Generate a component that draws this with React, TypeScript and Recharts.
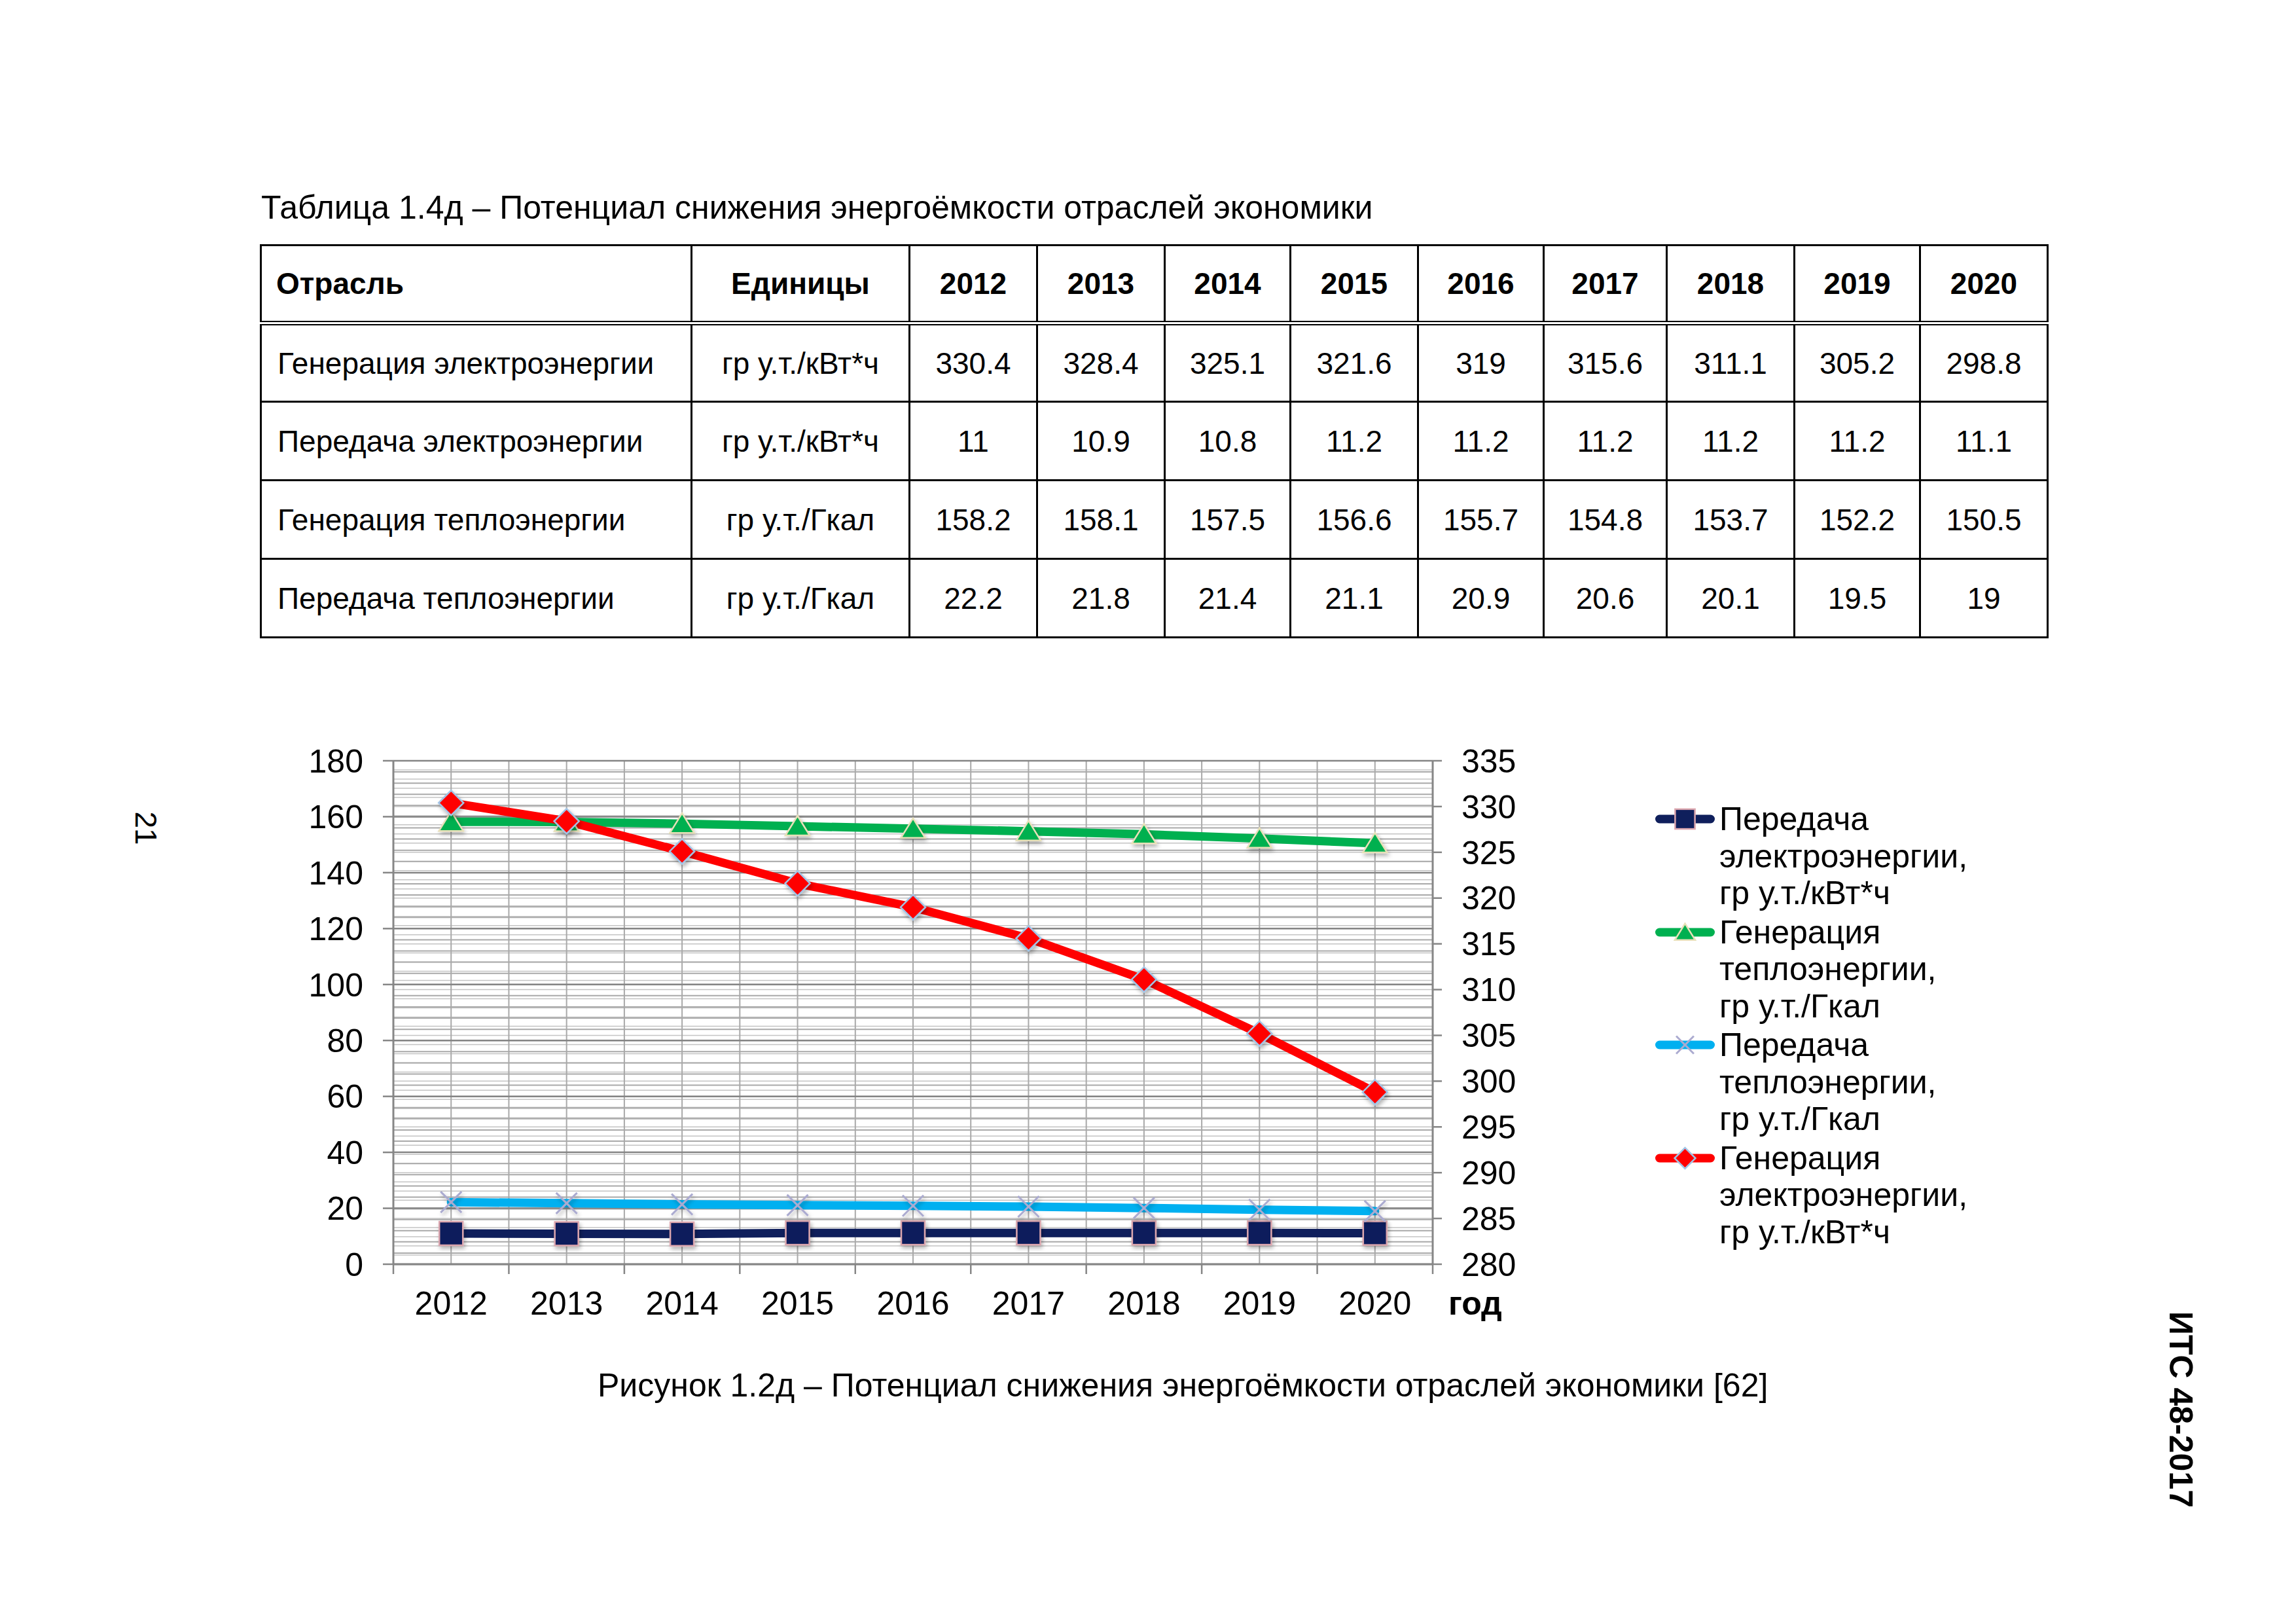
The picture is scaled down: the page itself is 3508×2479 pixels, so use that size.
import React from 'react';
import { LineChart, Line, XAxis, YAxis, CartesianGrid, Legend } from 'recharts';

const FONT = "'Liberation Sans', Arial, Helvetica, sans-serif";

// ---------- data ----------
const YEARS = [2012, 2013, 2014, 2015, 2016, 2017, 2018, 2019, 2020];
const GEN_EL = [330.4, 328.4, 325.1, 321.6, 319, 315.6, 311.1, 305.2, 298.8];
const PER_EL = [11, 10.9, 10.8, 11.2, 11.2, 11.2, 11.2, 11.2, 11.1];
const GEN_TEPLO = [158.2, 158.1, 157.5, 156.6, 155.7, 154.8, 153.7, 152.2, 150.5];
const PER_TEPLO = [22.2, 21.8, 21.4, 21.1, 20.9, 20.6, 20.1, 19.5, 19];

const TABLE_TITLE = 'Таблица 1.4д – Потенциал снижения энергоёмкости отраслей экономики';
const FIGURE_CAPTION = 'Рисунок 1.2д – Потенциал снижения энергоёмкости отраслей экономики [62]';
const TABLE_HEAD = ['Отрасль', 'Единицы'];
const TABLE_ROWS = ['Генерация электроэнергии', 'Передача электроэнергии', 'Генерация теплоэнергии', 'Передача теплоэнергии'];
const TABLE_UNITS = ['гр у.т./кВт*ч', 'гр у.т./кВт*ч', 'гр у.т./Гкал', 'гр у.т./Гкал'];
const TABLE_VALUES = [GEN_EL, PER_EL, GEN_TEPLO, PER_TEPLO];
const COL_WIDTHS = [658, 333, 195, 195, 192, 195, 192, 188, 195, 192, 195];

const LEFT_TICKS = [0, 20, 40, 60, 80, 100, 120, 140, 160, 180];
const RIGHT_TICKS = [280, 285, 290, 295, 300, 305, 310, 315, 320, 325, 330, 335];
const LEFT_MINOR_TICKS = Array.from({ length: 46 }, (_, i) => i * 4);
const RIGHT_MINOR_TICKS = Array.from({ length: 56 }, (_, i) => 280 + i);
const X_TICKS = [YEARS[0] - 0.5, ...YEARS.flatMap((y) => [y, y + 0.5])];
const X_AXIS_NAME = 'год';

const SERIES = [
  { key: 'perEl', name: 'Передача электроэнергии, гр у.т./кВт*ч', color: '#0f1f5c', marker: 'square', axis: 'left' },
  { key: 'genTeplo', name: 'Генерация теплоэнергии, гр у.т./Гкал', color: '#00b050', marker: 'triangle', axis: 'left' },
  { key: 'perTeplo', name: 'Передача теплоэнергии, гр у.т./Гкал', color: '#00b0f0', marker: 'x', axis: 'left' },
  { key: 'genEl', name: 'Генерация электроэнергии, гр у.т./кВт*ч', color: '#ff0000', marker: 'diamond', axis: 'right' },
];

const data = YEARS.map((year, i) => ({
  year,
  perEl: PER_EL[i],
  genTeplo: GEN_TEPLO[i],
  perTeplo: PER_TEPLO[i],
  genEl: GEN_EL[i],
}));

// ---------- style constants ----------
const AXIS_GRAY = '#868686';
const CHART_FS = 50;
const X_TICK_SIZE = 15;
const X_TICK_MARGIN = 26;

function Marker({ type, cx, cy, s = 1, shadow = false }: any) {
  if (cx == null || cy == null) return null;
  const filter = shadow ? 'url(#mkShadow)' : undefined;
  if (type === 'square') {
    const h = 18 * s;
    return <rect x={cx - h} y={cy - h} width={2 * h} height={2 * h} fill="#0f1f5c" stroke="#dca6ae" strokeWidth={2.5} filter={filter} />;
  }
  if (type === 'triangle') {
    const w = 18.5 * s;
    const pts = `${cx},${cy - 16 * s} ${cx + w},${cy + 14 * s} ${cx - w},${cy + 14 * s}`;
    return <polygon points={pts} fill="#00b050" stroke="#e8e0b8" strokeWidth={2.5} filter={filter} />;
  }
  if (type === 'diamond') {
    const h = 19 * s;
    const pts = `${cx},${cy - h} ${cx + h},${cy} ${cx},${cy + h} ${cx - h},${cy}`;
    return <polygon points={pts} fill="#ff0000" stroke="#a2c4e6" strokeWidth={2.5} filter={filter} />;
  }
  const h = 16 * s;
  return (
    <g filter={filter}>
      <line x1={cx - h} y1={cy - h} x2={cx + h} y2={cy + h} stroke="#ababd0" strokeWidth={3} />
      <line x1={cx - h} y1={cy + h} x2={cx + h} y2={cy - h} stroke="#ababd0" strokeWidth={3} />
    </g>
  );
}

function XTick(props: any) {
  const { x, y, payload } = props;
  const v = payload.value;
  const axisY = y - X_TICK_SIZE - X_TICK_MARGIN;
  if (Number.isInteger(v)) {
    return (
      <text x={x} y={y} dy="0.71em" textAnchor="middle" fontSize={CHART_FS} fontFamily={FONT} fill="#000">
        {v}
      </text>
    );
  }
  return <line x1={x} y1={axisY} x2={x} y2={axisY + X_TICK_SIZE} stroke={AXIS_GRAY} strokeWidth={2.5} />;
}

const renderAxisName = (props: any) => {
  const vb = props.viewBox || {};
  return (
    <text
      x={vb.x + vb.width + 24}
      y={vb.y + X_TICK_SIZE + X_TICK_MARGIN}
      dy="0.71em"
      fontSize={CHART_FS}
      fontWeight="bold"
      fontFamily={FONT}
      fill="#000"
    >
      {X_AXIS_NAME}
    </text>
  );
};

function legendLines(name: string) {
  const [head, unit] = name.split(', ');
  const words = head.split(' ');
  return [words[0], words.slice(1).join(' ') + ',', unit];
}

const renderLegend = () => (
  <div style={{ fontFamily: FONT, fontSize: CHART_FS, lineHeight: '56.5px', color: '#000' }}>
    {SERIES.map((s) => (
      <div key={s.key} style={{ display: 'flex', alignItems: 'flex-start', marginBottom: 3 }}>
        <svg width={98} height={56} style={{ flex: 'none', display: 'block' }}>
          <line x1={6.5} y1={28} x2={84.5} y2={28} stroke={s.color} strokeWidth={13} strokeLinecap="round" />
          <Marker type={s.marker} cx={45.5} cy={28} s={0.84} />
        </svg>
        <div style={{ whiteSpace: 'nowrap' }}>
          {legendLines(s.name).map((l, i) => (
            <div key={i}>{l}</div>
          ))}
        </div>
      </div>
    ))}
  </div>
);

const tickStyle = { fontSize: CHART_FS, fill: '#000', fontFamily: FONT };

function Chart() {
  return (
    <LineChart width={3000} height={1100} data={data} margin={{ top: 162, right: 661, bottom: 69, left: 451 }}>
      <defs>
        <filter id="mkShadow" x="-50%" y="-50%" width="200%" height="200%">
          <feDropShadow dx="2" dy="4" stdDeviation="3" floodColor="#000" floodOpacity="0.3" />
        </filter>
      </defs>
      <CartesianGrid yAxisId="rightMinor" vertical={false} stroke="#c4c4c4" strokeWidth={1.5} />
      <CartesianGrid yAxisId="leftMinor" stroke="#a9a9a9" strokeWidth={2} />
      <CartesianGrid yAxisId="left" vertical={false} stroke="#858585" strokeWidth={2.5} />
      <XAxis
        dataKey="year"
        type="number"
        domain={[X_TICKS[0], X_TICKS[X_TICKS.length - 1]]}
        ticks={X_TICKS}
        interval={0}
        allowDataOverflow
        tickLine={false}
        tickSize={X_TICK_SIZE}
        tickMargin={X_TICK_MARGIN}
        tick={<XTick />}
        axisLine={{ stroke: AXIS_GRAY, strokeWidth: 3 }}
        height={100}
        label={renderAxisName}
      />
      <YAxis
        yAxisId="left"
        domain={[0, 180]}
        ticks={LEFT_TICKS}
        interval={0}
        allowDataOverflow
        width={150}
        tickSize={16}
        tickMargin={30}
        tick={tickStyle}
        axisLine={{ stroke: AXIS_GRAY, strokeWidth: 3 }}
        tickLine={{ stroke: AXIS_GRAY, strokeWidth: 2.5 }}
      />
      <YAxis
        yAxisId="right"
        orientation="right"
        domain={[280, 335]}
        ticks={RIGHT_TICKS}
        interval={0}
        allowDataOverflow
        width={150}
        tickSize={14}
        tickMargin={30}
        tick={tickStyle}
        axisLine={{ stroke: AXIS_GRAY, strokeWidth: 3 }}
        tickLine={{ stroke: AXIS_GRAY, strokeWidth: 2.5 }}
      />
      <YAxis yAxisId="leftMinor" hide domain={[0, 180]} ticks={LEFT_MINOR_TICKS} interval={0} allowDataOverflow />
      <YAxis yAxisId="rightMinor" hide orientation="right" domain={[280, 335]} ticks={RIGHT_MINOR_TICKS} interval={0} allowDataOverflow />
      {SERIES.map((s) => (
        <Line
          key={s.key}
          type="linear"
          dataKey={s.key}
          name={s.name}
          yAxisId={s.axis}
          stroke={s.color}
          strokeWidth={13}
          strokeLinejoin="round"
          strokeLinecap="round"
          isAnimationActive={false}
          activeDot={false}
          dot={(p: any) => <Marker key={`${s.key}-${p.index}`} type={s.marker} cx={p.cx} cy={p.cy} shadow />}
        />
      ))}
      <Legend
        layout="vertical"
        align="center"
        verticalAlign="middle"
        content={renderLegend}
        wrapperStyle={{ left: 2529, top: 223, width: 520, height: 'auto', right: 'auto', bottom: 'auto' }}
      />
    </LineChart>
  );
}

const cell: React.CSSProperties = {
  border: '3px solid #000',
  fontSize: 46,
  fontFamily: FONT,
  textAlign: 'center',
  verticalAlign: 'middle',
  padding: 0,
  color: '#000',
  whiteSpace: 'nowrap',
};

function DataTable() {
  return (
    <table
      style={{
        position: 'absolute',
        left: 397,
        top: 373,
        borderCollapse: 'collapse',
        tableLayout: 'fixed',
        width: COL_WIDTHS.reduce((a, b) => a + b, 0),
      }}
    >
      <colgroup>
        {COL_WIDTHS.map((w, i) => (
          <col key={i} style={{ width: w }} />
        ))}
      </colgroup>
      <tbody>
        <tr style={{ height: 119 }}>
          <th style={{ ...cell, textAlign: 'left', paddingLeft: 22, borderBottom: '7px double #000' }}>{TABLE_HEAD[0]}</th>
          <th style={{ ...cell, borderBottom: '7px double #000' }}>{TABLE_HEAD[1]}</th>
          {YEARS.map((y) => (
            <th key={y} style={{ ...cell, borderBottom: '7px double #000' }}>
              {y}
            </th>
          ))}
        </tr>
        {TABLE_ROWS.map((r, ri) => (
          <tr key={r} style={{ height: 120 }}>
            <td style={{ ...cell, textAlign: 'left', paddingLeft: 24 }}>{r}</td>
            <td style={cell}>{TABLE_UNITS[ri]}</td>
            {TABLE_VALUES[ri].map((v, ci) => (
              <td key={ci} style={cell}>
                {String(v)}
              </td>
            ))}
          </tr>
        ))}
      </tbody>
    </table>
  );
}

export default function App() {
  return (
    <div style={{ position: 'absolute', left: 0, top: 0, width: 3508, height: 2479, background: '#fff', overflow: 'hidden', fontFamily: FONT }}>
      <div style={{ position: 'absolute', left: 399, top: 292, fontSize: 50, lineHeight: '50px', whiteSpace: 'nowrap', color: '#000' }}>
        {TABLE_TITLE}
      </div>
      <DataTable />
      <div style={{ position: 'absolute', left: 0, top: 1000 }}>
        <Chart />
      </div>
      <div style={{ position: 'absolute', left: 913, top: 2091, fontSize: 50, lineHeight: '50px', whiteSpace: 'nowrap', color: '#000' }}>
        {FIGURE_CAPTION}
      </div>
      <div
        style={{
          position: 'absolute',
          left: 173,
          top: 1242,
          width: 100,
          height: 46,
          fontSize: 46,
          lineHeight: '46px',
          textAlign: 'center',
          transform: 'rotate(90deg)',
          color: '#000',
        }}
      >
        21
      </div>
      <div
        style={{
          position: 'absolute',
          left: 3032,
          top: 2128,
          width: 600,
          height: 50,
          fontSize: 50,
          lineHeight: '50px',
          fontWeight: 'bold',
          textAlign: 'center',
          transform: 'rotate(90deg)',
          color: '#000',
        }}
      >
        ИТС 48-2017
      </div>
    </div>
  );
}
